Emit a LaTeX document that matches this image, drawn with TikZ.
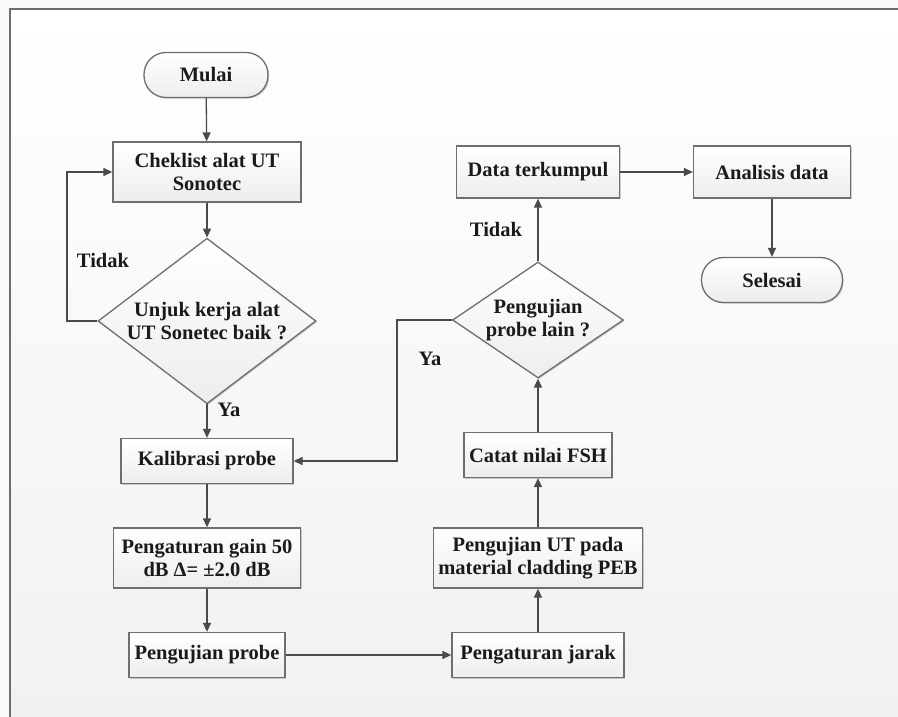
\documentclass[tikz,border=0pt]{standalone}
\usepackage{fontspec}
\setmainfont{Liberation Serif}
\usetikzlibrary{shapes.geometric,arrows.meta,shadows}
\definecolor{edge}{HTML}{6E6E6E}
\definecolor{wire}{HTML}{4A4A4A}
\definecolor{ink}{HTML}{1A1A1A}
\definecolor{bgbot}{HTML}{F1F1F1}
\definecolor{boxbot}{HTML}{EDEDED}
\tikzset{
  base/.style={draw=edge, line width=1.3pt, text=ink, font=\fontsize{20.5}{23}\selectfont\bfseries,
    top color=white, bottom color=boxbot, align=center,
    drop shadow={shadow xshift=1.2pt, shadow yshift=-1.2pt, fill=black, opacity=0.18}},
  procbox/.style={base, rectangle, inner sep=0pt},
  termbox/.style={base, rectangle, rounded corners=22pt, inner sep=0pt},
  decbox/.style={base, diamond, inner sep=-8pt},
  conn/.style={draw=wire, line width=1.3pt, -{Triangle[length=9pt,width=8pt]}},
  lbl/.style={text=ink, font=\fontsize{20.5}{23}\selectfont\bfseries, inner sep=0pt}
}
\begin{document}
\begin{tikzpicture}[x=1pt,y=-1pt]
\useasboundingbox (0,0) rectangle (898,717);
\fill[white!98!black] (0,0) rectangle (898,717);
\shade[top color=white, bottom color=bgbot] (10,9) rectangle (898,717);
\draw[edge, line width=1.4pt] (10,717) -- (10,9) -- (898,9);

\node[termbox, minimum width=124pt, minimum height=45pt] (mulai) at (206,75) {Mulai};
\node[procbox, minimum width=188pt, minimum height=60pt] (cek) at (207,172) {Cheklist alat UT\\Sonotec};
\node[decbox, minimum width=218pt, minimum height=146pt] (d1) at (207,321) {Unjuk kerja alat\\UT Sonetec baik ?};
\node[procbox, minimum width=172pt, minimum height=45pt] (kal) at (207,461) {Kalibrasi probe};
\node[procbox, minimum width=187pt, minimum height=60pt] (gain) at (207,558) {Pengaturan gain 50\\dB Δ= ±2.0 dB};
\node[procbox, minimum width=156pt, minimum height=45pt] (uji) at (207,655) {Pengujian probe};
\node[procbox, minimum width=172pt, minimum height=45pt] (jarak) at (538,655) {Pengaturan jarak};
\node[procbox, minimum width=209pt, minimum height=60pt] (ut) at (538,558) {Pengujian UT pada\\material cladding PEB};
\node[procbox, minimum width=148pt, minimum height=45pt] (fsh) at (538,455) {Catat nilai FSH};
\node[decbox, minimum width=171pt, minimum height=116pt] (d2) at (538,320) {Pengujian\\probe lain ?};
\node[procbox, minimum width=163pt, minimum height=52pt] (data) at (538,172) {Data terkumpul};
\node[procbox, minimum width=157pt, minimum height=52pt] (anal) at (772,172) {Analisis data};
\node[termbox, minimum width=141pt, minimum height=45pt] (sel) at (772,280) {Selesai};

\coordinate (l1a) at (67,321);
\coordinate (l1b) at (67,172);
\coordinate (l2a) at (397,320);
\coordinate (l2b) at (397,461);

\draw[conn] (mulai) -- (cek);
\draw[conn] (cek) -- (d1);
\draw[conn] (d1) -- (kal);
\draw[conn] (kal) -- (gain);
\draw[conn] (gain) -- (uji);
\draw[conn] (uji) -- (jarak);
\draw[conn] (jarak) -- (ut);
\draw[conn] (ut) -- (fsh);
\draw[conn] (fsh) -- (d2);
\draw[conn] (d2) -- (data);
\draw[conn] (data) -- (anal);
\draw[conn] (anal) -- (sel);
\draw[conn] (d1.west) -- (l1a) -- (l1b) -- (cek.west);
\draw[conn] (d2.west) -- (l2a) -- (l2b) -- (kal.east);

\node[lbl] (t1) at (103,260) {Tidak};
\node[lbl] (y1) at (229,410) {Ya};
\node[lbl] (t2) at (496,229) {Tidak};
\node[lbl] (y2) at (430,359) {Ya};
\end{tikzpicture}
\end{document}
